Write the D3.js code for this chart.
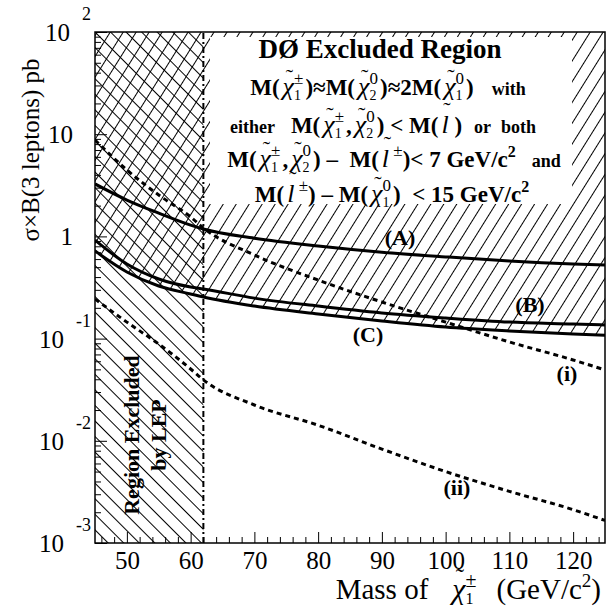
<!DOCTYPE html>
<html>
<head>
<meta charset="utf-8">
<script src="https://cdn.jsdelivr.net/npm/d3@7"></script>
<style>
  body { margin: 0; background: #fff; }
  svg text { font-family: "Liberation Serif", "Times New Roman", serif; fill: #000; }
</style>
</head>
<body>
<svg id="chart" width="607" height="609"></svg>
<script>
// chargino mass points (GeV/c^2)
var mass = [45, 50, 55, 60, 62, 70, 80, 90, 100, 110, 120, 125];
// 95% CL limits on sigma x B (pb)
var limitA = [3.26, 2.27, 1.69, 1.29, 1.18, 0.96, 0.805, 0.70, 0.63, 0.574, 0.537, 0.525];
var limitB = [0.92, 0.537, 0.383, 0.320, 0.306, 0.249, 0.208, 0.178, 0.159, 0.145, 0.139, 0.136];
var limitC = [0.72, 0.449, 0.327, 0.273, 0.255, 0.208, 0.174, 0.149, 0.130, 0.119, 0.111, 0.108];
// predictions
var predI = [8.78, 4.47, 2.54, 1.55, 1.21, 0.658, 0.374, 0.228, 0.145, 0.0927, 0.0618, 0.0493];
var predII = [0.244, 0.145, 0.0885, 0.0504, 0.0394, 0.0224, 0.0142, 0.0083, 0.0050, 0.0032, 0.00212, 0.00166];

var lepLimit = 62;
var xTicks = [50, 60, 70, 80, 90, 100, 110, 120];
var yTicks = [100, 10, 1, 0.1, 0.01, 0.001];
var yTickLabels = [["10", "2"], ["10", ""], ["1", ""], ["10", "-1"], ["10", "-2"], ["10", "-3"]];

var svg = d3.select("#chart");
var pL = 95, pR = 605, pT = 32, pB = 543;

var x = d3.scaleLinear().domain([45, 125]).range([pL, pR]);
var y = d3.scaleLog().domain([1e-3, 1e2]).range([pB, pT]);

var defs = svg.append("defs");
defs.append("clipPath").attr("id", "plotclip")
    .append("rect").attr("x", pL).attr("y", pT)
    .attr("width", pR - pL).attr("height", pB - pT);

// hatch patterns
function hatch(id, angle, gap) {
    var p = defs.append("pattern").attr("id", id)
        .attr("patternUnits", "userSpaceOnUse")
        .attr("width", gap).attr("height", gap)
        .attr("patternTransform", "rotate(" + angle + ")");
    p.append("line").attr("x1", 0.5).attr("y1", 0).attr("x2", 0.5).attr("y2", gap)
        .attr("stroke", "#000").attr("stroke-width", 1);
}
hatch("fwd", 32, 11);   // "///"
hatch("back", -45, 11); // "\\\"

var plot = svg.append("g").attr("clip-path", "url(#plotclip)");

// D0 excluded region: above curve C
var excl = d3.area()
    .x(function (d, i) { return x(mass[i]); })
    .y0(pT)
    .y1(function (d) { return y(d); })
    .curve(d3.curveMonotoneX);
plot.append("path").datum(limitC).attr("d", excl).attr("fill", "url(#fwd)");

// LEP excluded region
plot.append("rect")
    .attr("x", x(45)).attr("y", pT)
    .attr("width", x(lepLimit) - x(45)).attr("height", pB - pT)
    .attr("fill", "url(#back)");

// white text box
plot.append("rect").attr("x", 210).attr("y", 37).attr("width", 362).attr("height", 167)
    .attr("fill", "#fff");

var line = d3.line()
    .x(function (d, i) { return x(mass[i]); })
    .y(function (d) { return y(d); })
    .curve(d3.curveMonotoneX);

[limitA, limitB, limitC].forEach(function (s) {
    plot.append("path").datum(s).attr("d", line)
        .attr("fill", "none").attr("stroke", "#000").attr("stroke-width", 3);
});
[predI, predII].forEach(function (s) {
    plot.append("path").datum(s).attr("d", line)
        .attr("fill", "none").attr("stroke", "#000").attr("stroke-width", 3)
        .attr("stroke-dasharray", "5,4");
});

// LEP limit line
plot.append("line")
    .attr("x1", x(lepLimit)).attr("x2", x(lepLimit))
    .attr("y1", pB).attr("y2", pT)
    .attr("stroke", "#000").attr("stroke-width", 2)
    .attr("stroke-dasharray", "6,3,2,3");

// axes (ticks inside)
var xMinor = d3.range(46, 125, 2).filter(function (v) { return v % 10 !== 0; });
var yMinor = [];
[-3, -2, -1, 0, 1].forEach(function (e) {
    for (var k = 2; k <= 9; k++) yMinor.push(k * Math.pow(10, e));
});

var xAxis = svg.append("g").attr("transform", "translate(0," + pB + ")")
    .call(d3.axisBottom(x).tickValues(xTicks).tickSize(-11).tickPadding(8).tickFormat(d3.format("d")));
svg.append("g").attr("transform", "translate(0," + pB + ")")
    .call(d3.axisBottom(x).tickValues(xMinor).tickSize(-6).tickFormat(""));
svg.append("g").attr("transform", "translate(" + pL + ",0)")
    .call(d3.axisLeft(y).tickValues(yTicks).tickSize(-12).tickFormat(""));
svg.append("g").attr("transform", "translate(" + pL + ",0)")
    .call(d3.axisLeft(y).tickValues(yMinor).tickSize(-6).tickFormat(""));
svg.selectAll(".domain").remove();
svg.selectAll(".tick line").attr("stroke", "#000").attr("stroke-width", 1);
xAxis.selectAll("text").attr("font-size", 25)
    .style("font-family", "'Liberation Serif', serif").attr("fill", "#000");

// y tick labels with exponents
yTicks.forEach(function (v, i) {
    var base = yTickLabels[i][0], ex = yTickLabels[i][1];
    var ty = y(v);
    if (ex) {
        svg.append("text").attr("x", 91).attr("y", ty - 12).attr("font-size", 18)
            .attr("text-anchor", "end").text(ex);
        var exW = ex.length > 1 ? 15 : 9;
        svg.append("text").attr("x", 91 - exW - 12).attr("y", ty + 9).attr("font-size", 25)
            .attr("text-anchor", "end").text(base);
    } else {
        svg.append("text").attr("x", 73).attr("y", ty + 9).attr("font-size", 25)
            .attr("text-anchor", "end").text(base);
    }
});

// frame
svg.append("rect").attr("x", pL).attr("y", pT)
    .attr("width", pR - pL).attr("height", pB - pT)
    .attr("fill", "none").attr("stroke", "#000").attr("stroke-width", 1.5);

// rich text: segments laid out left to right, scripts stacked, tildes over base
function rich(segs, cx, by, anchor, bold) {
    var g = svg.append("g");
    var cur = 0, baseStart = 0, baseW = 0, lastStart = 0, items = [];
    segs.forEach(function (s) {
        if (s.gap) { cur += s.gap; return; }
        var t = g.append("text").text(s.t)
            .attr("font-size", s.fs || 23)
            .attr("font-weight", s.n ? "normal" : (bold ? "bold" : "normal"))
            .attr("font-style", s.i ? "italic" : "normal")
            .style("white-space", "pre");
        var w = t.node().getComputedTextLength();
        var px;
        if (s.pos === "over") {
            px = baseStart + baseW / 2 - w / 2 + (s.dx || 0);
        } else if (s.pos === "stack") {
            px = lastStart;
            cur = Math.max(cur, lastStart + w);
        } else {
            px = cur; lastStart = cur;
            if (!s.sc) { baseStart = cur; baseW = w; }
            cur += w;
        }
        items.push([t, px, s.dy || 0]);
    });
    var off = anchor === "middle" ? cx - cur / 2 : anchor === "end" ? cx - cur : cx;
    items.forEach(function (it) {
        it[0].attr("x", it[1] + off).attr("y", by + it[2]);
    });
    return g;
}

function chi(sup, sub) {
    return [
        { gap: 3 },
        { t: "\u03C7", i: true, n: true, fs: 26 },
        { t: "\u02DC", pos: "over", n: true, fs: 22, dy: -11, dx: 1 },
        { t: sup, sc: true, n: true, fs: 17, dy: -11 },
        { t: sub, pos: "stack", n: true, fs: 14, dy: 5 },
        { gap: 2 }
    ];
}
function slep(sup) {
    var a = [
        { gap: 3 },
        { t: "l", i: true, n: true, fs: 26 },
        { t: "\u02DC", pos: "over", n: true, fs: 22, dy: -16, dx: 2 }
    ];
    if (sup) a.push({ t: " " + sup, sc: true, n: true, fs: 17, dy: -11 });
    return a;
}

svg.append("text").attr("x", 380).attr("y", 58).attr("text-anchor", "middle")
    .attr("font-size", 27).attr("font-weight", "bold").text("D\u00D8 Excluded Region");

rich([].concat(
    [{ t: "M(" }], chi("\u00B1", "1"), [{ t: ")\u2248M(" }], chi("0", "2"),
    [{ t: ")\u22482M(" }], chi("0", "1"), [{ t: ")" }], [{ gap: 18 }], [{ t: "with", fs: 18 }]
), 388, 95, "middle", true);

rich([].concat(
    [{ t: "either", fs: 18 }], [{ gap: 16 }], [{ t: "M(" }], chi("\u00B1", "1"), [{ t: "," }],
    chi("0", "2"), [{ t: ") < M(" }], slep(""), [{ t: " )" }], [{ gap: 12 }],
    [{ t: "or", fs: 18 }], [{ gap: 10 }], [{ t: "both", fs: 18 }]
), 383, 133, "middle", true);

rich([].concat(
    [{ t: "M(" }], chi("\u00B1", "1"), [{ t: "," }], chi("0", "2"), [{ t: ") \u2013  M(" }],
    slep("\u00B1"), [{ t: ")< 7 GeV/c" }], [{ t: "2", fs: 16, dy: -10, sc: true }],
    [{ gap: 16 }], [{ t: "and", fs: 18 }]
), 394, 167, "middle", true);

rich([].concat(
    [{ t: "M(" }], slep("\u00B1"), [{ t: ") \u2013 M(" }], chi("0", "1"),
    [{ t: ")  < 15 GeV/c" }], [{ t: "2", fs: 16, dy: -10, sc: true }]
), 392, 202, "middle", true);

// curve labels
var labels = [["(A)", 400, 245], ["(B)", 530, 312], ["(C)", 368, 342], ["(i)", 567, 381], ["(ii)", 457, 495]];
labels.forEach(function (l) {
    svg.append("text").attr("x", l[1]).attr("y", l[2]).attr("text-anchor", "middle")
        .attr("font-size", 22).attr("font-weight", "bold").text(l[0]);
});

// LEP region label
svg.append("text").attr("transform", "translate(139,435) rotate(-90)")
    .attr("text-anchor", "middle").attr("font-size", 22).attr("font-weight", "bold")
    .text("Region Excluded");
svg.append("text").attr("transform", "translate(166,435) rotate(-90)")
    .attr("text-anchor", "middle").attr("font-size", 22).attr("font-weight", "bold")
    .text("by LEP");

// axis titles
svg.append("text").attr("transform", "translate(39,150) rotate(-90)")
    .attr("text-anchor", "middle").attr("font-size", 25)
    .text("\u03C3\u00D7B(3 leptons) pb");

rich([].concat(
    [{ t: "Mass of" }], [{ gap: 24 }],
    [{ t: "\u03C7", i: true, fs: 30 }, { t: "\u02DC", pos: "over", fs: 25, dy: -13, dx: 1 },
     { t: "\u00B1", sc: true, fs: 20, dy: -12 }, { t: "1", pos: "stack", fs: 16, dy: 5 }],
    [{ gap: 20 }], [{ t: "(GeV/c" }], [{ t: "2", fs: 19, dy: -12, sc: true }], [{ t: ")" }]
).map(function (s) { if (!s.gap && !s.fs) s.fs = 29; return s; }), 601, 599, "end", false);
</script>
</body>
</html>
